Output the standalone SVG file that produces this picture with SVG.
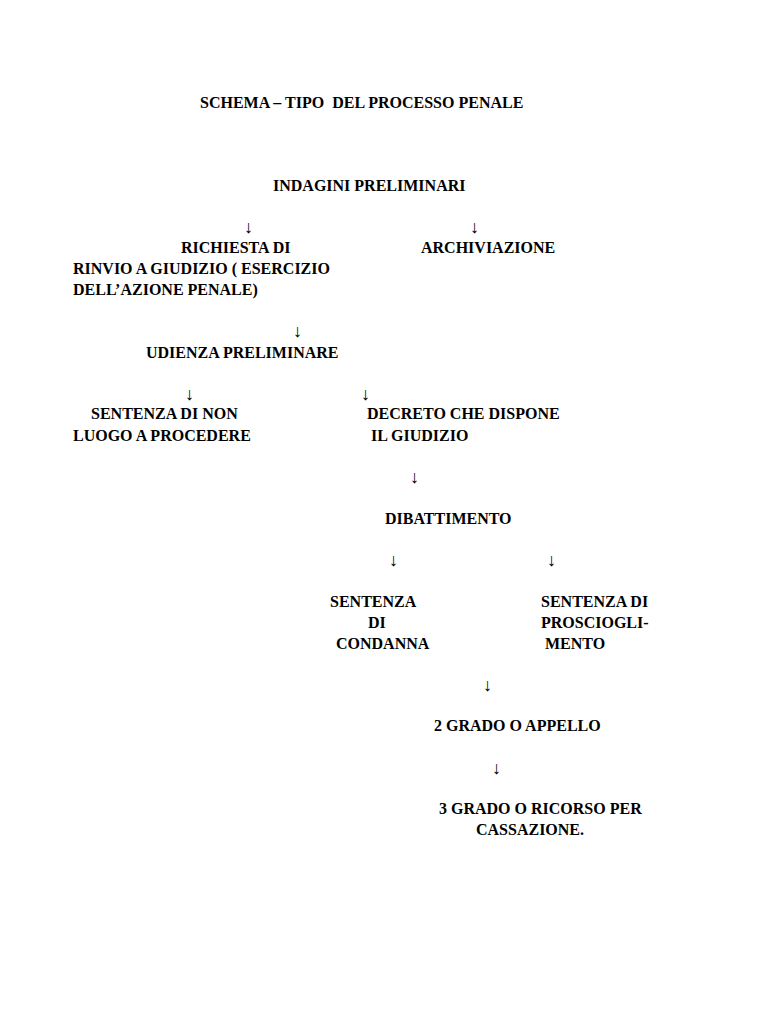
<svg xmlns="http://www.w3.org/2000/svg" width="768" height="1024" viewBox="0 0 768 1024">
<style>
text{font-family:"Liberation Serif","Times New Roman",serif;font-weight:bold;font-size:16px;fill:#000}
.a{font-size:18px;font-weight:normal}
</style>
<rect width="768" height="1024" fill="#fff"/>
<text x="200" y="108" xml:space="preserve">SCHEMA – TIPO  DEL PROCESSO PENALE</text>
<g id="indagini"><text x="273" y="191">INDAGINI PRELIMINARI</text></g>
<g id="richiesta"><text x="181" y="253">RICHIESTA DI</text><text x="73" y="274">RINVIO A GIUDIZIO ( ESERCIZIO</text><text x="73" y="295">DELL’AZIONE PENALE)</text></g>
<g id="archiviazione"><text x="421" y="253">ARCHIVIAZIONE</text></g>
<g id="udienza"><text x="146" y="358">UDIENZA PRELIMINARE</text></g>
<g id="nonluogo"><text x="91" y="419">SENTENZA DI NON</text><text x="73" y="441">LUOGO A PROCEDERE</text></g>
<g id="decreto"><text x="367" y="419">DECRETO CHE DISPONE</text><text x="371" y="441">IL GIUDIZIO</text></g>
<g id="dibattimento"><text x="385" y="524">DIBATTIMENTO</text></g>
<g id="condanna"><text x="330" y="607">SENTENZA</text><text x="368" y="628">DI</text><text x="336" y="649">CONDANNA</text></g>
<g id="proscioglimento"><text x="541" y="607">SENTENZA DI</text><text x="541" y="628">PROSCIOGLI-</text><text x="545" y="649">MENTO</text></g>
<g id="appello"><text x="434" y="731">2 GRADO O APPELLO</text></g>
<g id="cassazione"><text x="439" y="814">3 GRADO O RICORSO PER</text><text x="476" y="835">CASSAZIONE.</text></g>
<g id="connectors">
<text class="a" x="244" y="233">↓</text><text class="a" x="470" y="233">↓</text>
<text class="a" x="293" y="337">↓</text>
<text class="a" x="185" y="400">↓</text><text class="a" x="361" y="400">↓</text>
<text class="a" x="410" y="483">↓</text>
<text class="a" x="389" y="566">↓</text><text class="a" x="547" y="566">↓</text>
<text class="a" x="483" y="691">↓</text>
<text class="a" x="492" y="774">↓</text>
</g>
</svg>
